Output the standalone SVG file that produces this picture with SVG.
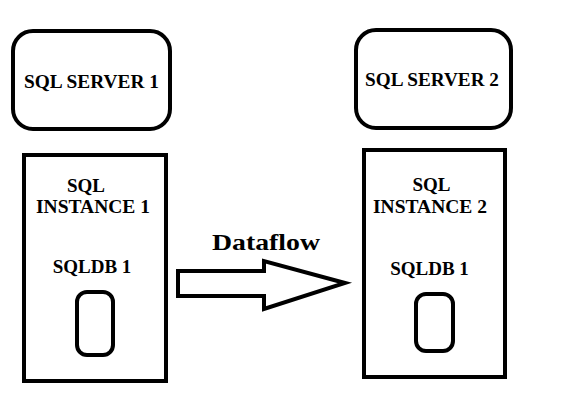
<svg xmlns="http://www.w3.org/2000/svg" width="562" height="412" viewBox="0 0 562 412">
<style>
.box{fill:#fff;stroke:#000;stroke-width:4}
.t{font-family:"Liberation Serif","Times New Roman",serif;font-weight:bold;font-size:19px;fill:#000;text-anchor:middle}
.big{font-size:24px}
</style>
<rect width="562" height="412" fill="#fff"/>
<g id="server1">
<rect class="box" x="13" y="31" width="157" height="98" rx="20"/>
<text class="t" x="91.5" y="88" textLength="135" lengthAdjust="spacingAndGlyphs">SQL SERVER 1</text>
</g>
<g id="server2">
<rect class="box" x="356" y="30" width="155" height="98" rx="20"/>
<text class="t" x="432" y="86" textLength="134" lengthAdjust="spacingAndGlyphs">SQL SERVER 2</text>
</g>
<g id="instance1">
<rect class="box" x="24" y="155" width="142" height="226"/>
<text class="t" x="86" y="192">SQL</text>
<text class="t" x="93" y="213" textLength="114" lengthAdjust="spacingAndGlyphs">INSTANCE 1</text>
<text class="t" x="92" y="273">SQLDB 1</text>
</g>
<g id="db1">
<rect class="box" x="77" y="292" width="36" height="63" rx="10"/>
</g>
<g id="instance2">
<rect class="box" x="364" y="150" width="141" height="227"/>
<text class="t" x="431.5" y="191">SQL</text>
<text class="t" x="430" y="213" textLength="114" lengthAdjust="spacingAndGlyphs">INSTANCE 2</text>
<text class="t" x="429.5" y="275">SQLDB 1</text>
</g>
<g id="db2">
<rect class="box" x="416" y="294" width="37" height="57" rx="10"/>
</g>
<g id="connectors">
<polygon class="box" points="178,271 264,271 264,261 345,283 264,309 264,296 178,296"/>
<text class="t big" x="266" y="250" textLength="108" lengthAdjust="spacingAndGlyphs">Dataflow</text>
</g>
</svg>
